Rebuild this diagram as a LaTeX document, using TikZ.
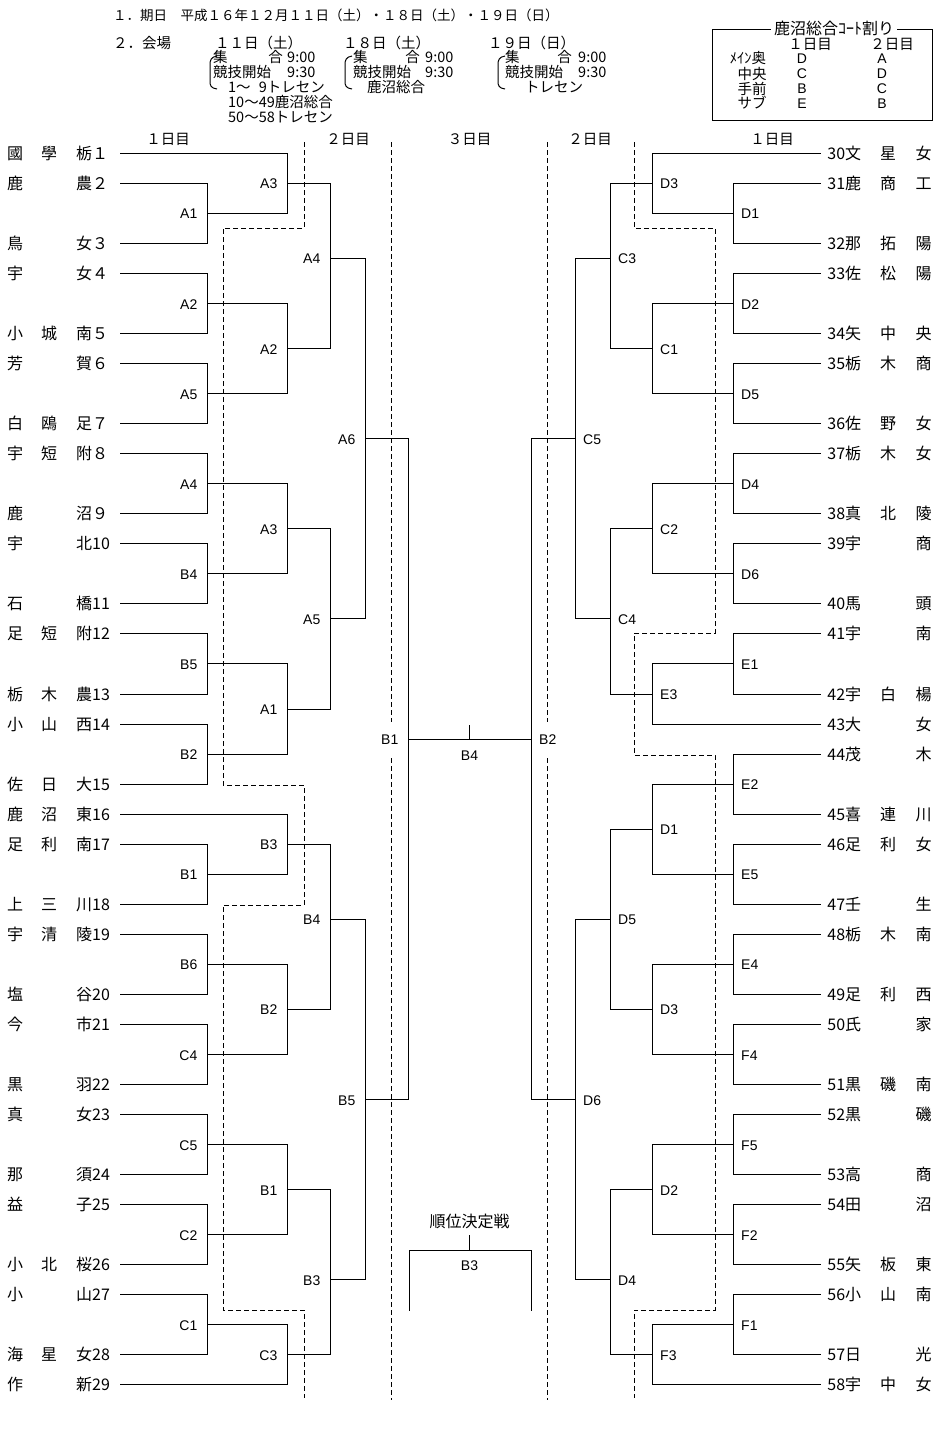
\documentclass[tikz,border=0pt]{standalone}
\usepackage{fontspec}
\setmainfont{Liberation Sans}
\newfontfamily\jp{Noto Sans CJK JP}
\newcommand{\Yr}[1]{(153.3+30.04*(#1))}
\newcommand{\jpf}[1]{\jp\fontsize{#1}{#1}\selectfont}
% left-side matches: #1 vertical x, #2 parent x, #3 list ra/rb/rc/label
\newcommand\mL[3]{%
  \foreach \ra/\rb/\rc/\mm [count=\k] in {#3} {
    \coordinate (L#1a\k) at (#1,{\Yr{\ra}});
    \coordinate (L#1b\k) at (#1,{\Yr{\rb}});
    \coordinate (L#1o\k) at (#1,{\Yr{\rc}});
    \coordinate (L#1p\k) at (#2,{\Yr{\rc}});
    \draw[br] (L#1a\k) -- (L#1b\k);
    \draw[br] (L#1o\k) -- (L#1p\k);
    \node[labL] (L#1m\k) at ({#1-9.5},{\Yr{\rc}+5.5}) {\mm};
  }}
\newcommand\mR[3]{%
  \foreach \ra/\rb/\rc/\mm [count=\k] in {#3} {
    \coordinate (R#1a\k) at (#1,{\Yr{\ra}});
    \coordinate (R#1b\k) at (#1,{\Yr{\rb}});
    \coordinate (R#1o\k) at (#1,{\Yr{\rc}});
    \coordinate (R#1p\k) at (#2,{\Yr{\rc}});
    \draw[br] (R#1a\k) -- (R#1b\k);
    \draw[br] (R#1o\k) -- (R#1p\k);
    \node[labR] (R#1m\k) at ({#1+8},{\Yr{\rc}+5.5}) {\mm};
  }}
\begin{document}
\begin{tikzpicture}[x=1pt, y=-1pt,
  br/.style={line width=1pt, line cap=rect},
  dsh/.style={line width=1pt, dash pattern=on 5pt off 3pt},
  lab/.style={font=\fontsize{14}{14}\selectfont, inner sep=0pt},
  labL/.style={lab, anchor=base east},
  labR/.style={lab, anchor=base west},
  labC/.style={lab, anchor=base},
  team/.style={font=\jpf{16}, inner sep=0pt},
  hdr/.style={font=\jpf{14.5}, inner sep=0pt, anchor=base west},
  hdc/.style={font=\jpf{14.5}, inner sep=0pt, anchor=base},
  hde/.style={font=\jpf{14.5}, inner sep=0pt, anchor=base east},
]
\fill[white] (0,0) rectangle (940,1441);
\useasboundingbox (0,0) rectangle (940,1441);

% ---------- header ----------
\node[hdr, font=\jpf{13.5}] (h1) at (113,20.3) {１．期日　平成１６年１２月１１日（土）・１８日（土）・１９日（日）};
\node[hdr] (h2) at (113,48.6) {２．会場};
\node[hdr] (d11) at (215,48.6) {１１日（土）};
\node[hdr] (d18) at (343,48.6) {１８日（土）};
\node[hdr] (d19) at (488,48.6) {１９日（日）};
% block 1
\node[hdr] (b1a) at (213,62.5) {集};
\node[hde] (b1b) at (283,62.5) {合};
\node[hdr] (b1c) at (287,62.5) {9:00};
\node[hdr] (b1d) at (213,77.5) {競技開始};
\node[hdr] (b1e) at (287,77.5) {9:30};
\node[hdr] (b1f) at (228,92.5) {1～\hphantom{0}9トレセン};
\node[hdr] (b1g) at (228,107.5) {10～49鹿沼総合};
\node[hdr] (b1h) at (228,122.5) {50～58トレセン};
\draw[br, line cap=butt] (217,56) .. controls (211,57) and (210,60) .. (210,65) -- (210,81) .. controls (210,86) and (211,88) .. (217,89);
% block 2
\node[hdr] (b2a) at (353,62.5) {集};
\node[hde] (b2b) at (420,62.5) {合};
\node[hdr] (b2c) at (425,62.5) {9:00};
\node[hdr] (b2d) at (353,77.5) {競技開始};
\node[hdr] (b2e) at (425,77.5) {9:30};
\node[hdr] (b2f) at (367,92.5) {鹿沼総合};
\draw[br, line cap=butt] (352,56) .. controls (346,57) and (345,60) .. (345,65) -- (345,81) .. controls (345,86) and (346,88) .. (352,89);
% block 3
\node[hdr] (b3a) at (505,62.5) {集};
\node[hde] (b3b) at (572,62.5) {合};
\node[hdr] (b3c) at (578,62.5) {9:00};
\node[hdr] (b3d) at (505,77.5) {競技開始};
\node[hdr] (b3e) at (578,77.5) {9:30};
\node[hdr] (b3f) at (525,92.5) {トレセン};
\draw[br, line cap=butt] (505,56) .. controls (499,57) and (498,60) .. (498,65) -- (498,81) .. controls (498,86) and (499,88) .. (505,89);

% court box
\draw[br] (712,29) rectangle (932,120);
\node[hdc, font=\jpf{16}, fill=white, inner xsep=3pt, inner ysep=2pt, anchor=center] (bxt) at (834,28.5) {鹿沼総合ｺｰﾄ割り};
\node[hdc] (bx1) at (810,49.6) {１日目};
\node[hdc] (bx2) at (892,49.6) {２日目};
\node[hdc] (bxr1) at (748,63.6) {ﾒｲﾝ奥};
\node[hdc] (bxr2) at (752,79.3) {中央};
\node[hdc] (bxr3) at (752,94.3) {手前};
\node[hdc] (bxr4) at (752,108.6) {サブ};
\node[labC] (bxa1) at (802,63) {D};
\node[labC] (bxb1) at (882,63) {A};
\node[labC] (bxa2) at (802,78.7) {C};
\node[labC] (bxb2) at (882,78.7) {D};
\node[labC] (bxa3) at (802,93.7) {B};
\node[labC] (bxb3) at (882,93.7) {C};
\node[labC] (bxa4) at (802,108) {E};
\node[labC] (bxb4) at (882,108) {B};

% column headers
\node[hdc] (ch1) at (168,144.3) {１日目};
\node[hdc] (ch2) at (348,144.3) {２日目};
\node[hdc] (ch3) at (469.5,144.3) {３日目};
\node[hdc] (ch4) at (590,144.3) {２日目};
\node[hdc] (ch5) at (772,144.3) {１日目};

% ---------- dashed dividers ----------
\draw[dsh] (304,142) -- (304,228) -- (223,228) -- (223,785) -- (304,785) -- (304,905) -- (223,905) -- (223,1310) -- (304,1310) -- (304,1398);
\draw[dsh] (391,142) -- (391,722);
\draw[dsh] (391,758) -- (391,1400);
\draw[dsh] (547,142) -- (547,722);
\draw[dsh] (547,758) -- (547,1400);
\draw[dsh] (634,142) -- (634,228) -- (715,228) -- (715,633) -- (634,633) -- (634,755) -- (715,755) -- (715,1310) -- (634,1310) -- (634,1398);

% ---------- left teams ----------
\foreach \ry/\ca/\cb/\cc/\nn/\xe [count=\k] in {
0/國/學/栃/１/287, 1/鹿/　/農/２/207, 3/鳥/　/女/３/207, 4/宇/　/女/４/207,
6/小/城/南/５/207, 7/芳/　/賀/６/207, 9/白/鴎/足/７/207, 10/宇/短/附/８/207,
12/鹿/　/沼/９/207, 13/宇/　/北/10/207, 15/石/　/橋/11/207, 16/足/短/附/12/207,
18/栃/木/農/13/207, 19/小/山/西/14/207, 21/佐/日/大/15/207, 22/鹿/沼/東/16/287,
23/足/利/南/17/207, 25/上/三/川/18/207, 26/宇/清/陵/19/207, 28/塩/　/谷/20/207,
29/今/　/市/21/207, 31/黒/　/羽/22/207, 32/真/　/女/23/207, 34/那/　/須/24/207,
35/益/　/子/25/207, 37/小/北/桜/26/207, 38/小/　/山/27/207, 40/海/星/女/28/207,
41/作/　/新/29/287} {
  \node[team, anchor=base west] (tl\k) at (7,{\Yr{\ry}+6})
    {\makebox[16pt]{\ca}\hspace{18pt}\makebox[16pt]{\cb}\hspace{19pt}\makebox[16pt]{\cc}\nn};
  \coordinate (tls\k) at (120,{\Yr{\ry}});
  \coordinate (tle\k) at (\xe,{\Yr{\ry}});
  \draw[br] (tls\k) -- (tle\k);
}

% ---------- right teams ----------
\foreach \ry/\nn/\ca/\cb/\cc/\xe [count=\k] in {
0/30/文/星/女/652, 1/31/鹿/商/工/733, 3/32/那/拓/陽/733, 4/33/佐/松/陽/733,
6/34/矢/中/央/733, 7/35/栃/木/商/733, 9/36/佐/野/女/733, 10/37/栃/木/女/733,
12/38/真/北/陵/733, 13/39/宇/　/商/733, 15/40/馬/　/頭/733, 16/41/宇/　/南/733,
18/42/宇/白/楊/733, 19/43/大/　/女/652, 20/44/茂/　/木/733, 22/45/喜/連/川/733,
23/46/足/利/女/733, 25/47/壬/　/生/733, 26/48/栃/木/南/733, 28/49/足/利/西/733,
29/50/氏/　/家/733, 31/51/黒/磯/南/733, 32/52/黒/　/磯/733, 34/53/高/　/商/733,
35/54/田/　/沼/733, 37/55/矢/板/東/733, 38/56/小/山/南/733, 40/57/日/　/光/733,
41/58/宇/中/女/652} {
  \node[team, anchor=base west] (tr\k) at (845,{\Yr{\ry}+6})
    {\makebox[0pt][r]{\nn}\makebox[16pt]{\ca}\hspace{19pt}\makebox[16pt]{\cb}\hspace{19.5pt}\makebox[16pt]{\cc}};
  \coordinate (trs\k) at (820,{\Yr{\ry}});
  \coordinate (tre\k) at (\xe,{\Yr{\ry}});
  \draw[br] (trs\k) -- (tre\k);
}

% ---------- left bracket ----------
\mL{207}{287}{1/3/2/A1, 4/6/5/A2, 7/9/8/A5, 10/12/11/A4, 13/15/14/B4, 16/18/17/B5, 19/21/20/B2, 23/25/24/B1, 26/28/27/B6, 29/31/30/C4, 32/34/33/C5, 35/37/36/C2, 38/40/39/C1}
\mL{287}{330}{0/2/1/A3, 5/8/6.5/A2, 11/14/12.5/A3, 17/20/18.5/A1, 22/24/23/B3, 27/30/28.5/B2, 33/36/34.5/B1, 39/41/40/C3}
\mL{330}{365}{1/6.5/3.5/A4, 12.5/18.5/15.5/A5, 23/28.5/25.5/B4, 34.5/40/37.5/B3}
\mL{365}{408}{3.5/15.5/9.5/A6, 25.5/37.5/31.5/B5}

% ---------- right bracket ----------
\mR{733}{652}{1/3/2/D1, 4/6/5/D2, 7/9/8/D5, 10/12/11/D4, 13/15/14/D6, 16/18/17/E1, 20/22/21/E2, 23/25/24/E5, 26/28/27/E4, 29/31/30/F4, 32/34/33/F5, 35/37/36/F2, 38/40/39/F1}
\mR{652}{610}{0/2/1/D3, 5/8/6.5/C1, 11/14/12.5/C2, 17/19/18/E3, 21/24/22.5/D1, 27/30/28.5/D3, 33/36/34.5/D2, 39/41/40/F3}
\mR{610}{575}{1/6.5/3.5/C3, 12.5/18/15.5/C4, 22.5/28.5/25.5/D5, 34.5/40/37.5/D4}
\mR{575}{531}{3.5/15.5/9.5/C5, 25.5/37.5/31.5/D6}

% ---------- final ----------
\coordinate (fLa) at (408,{\Yr{9.5}});
\coordinate (fLb) at (408,{\Yr{31.5}});
\coordinate (fRa) at (531,{\Yr{9.5}});
\coordinate (fRb) at (531,{\Yr{31.5}});
\coordinate (fLo) at (408,{\Yr{19.5}});
\coordinate (fRo) at (531,{\Yr{19.5}});
\coordinate (fT) at (469.5,{\Yr{19.5}});
\coordinate (fTt) at (469.5,725);
\draw[br] (fLa) -- (fLb);
\draw[br] (fRa) -- (fRb);
\draw[br] (fLo) -- (fRo);
\draw[br] (fT) -- (fTt);
\node[labL] (fLm) at (398.5,{\Yr{19.5}+5.5}) {B1};
\node[labR] (fRm) at (539,{\Yr{19.5}+5.5}) {B2};
\node[labC] (fCm) at (469.5,760) {B4};

% ---------- placement match ----------
\node[hdc, font=\jpf{16}] (pm) at (469.5,1227.8) {順位決定戦};
\coordinate (pT) at (469.5,1235);
\coordinate (pC) at (469.5,1250);
\coordinate (pL) at (409,1250);
\coordinate (pR) at (531,1250);
\coordinate (pLb) at (409,1310);
\coordinate (pRb) at (531,1310);
\draw[br] (pT) -- (pC);
\draw[br] (pLb) -- (pL) -- (pR) -- (pRb);
\node[labC] (pB) at (469.5,1270) {B3};
\end{tikzpicture}
\end{document}
